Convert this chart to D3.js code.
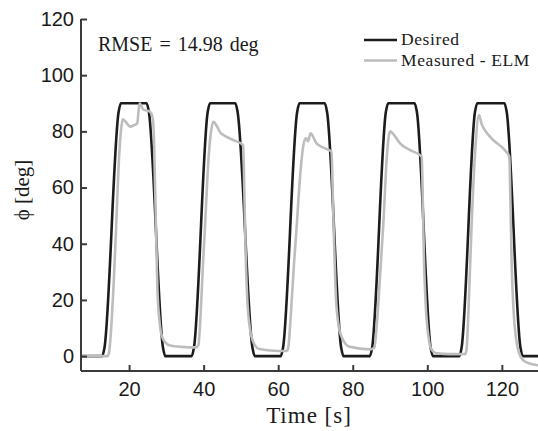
<!DOCTYPE html>
<html>
<head>
<meta charset="utf-8">
<script src="https://cdn.jsdelivr.net/npm/d3@7"></script>
<style>
  html, body { margin: 0; padding: 0; background: #fff; }
  svg { display: block; }
</style>
</head>
<body>
<svg id="chart" width="538" height="431"></svg>
<script>
// Reference trajectory (deg) over time (s)
const desiredTime = [7, 12.8, 13.4, 17.2, 17.8, 24.7, 25.3, 29.1, 29.7,
  36.8, 37.4, 41.1, 41.7, 48.5, 49.1, 53.1, 53.7,
  60.7, 61.3, 65.1, 65.7, 72.5, 73.1, 76.9, 77.5,
  84.6, 85.2, 88.9, 89.5, 96.6, 97.2, 100.9, 101.5,
  108.6, 109.2, 112.8, 113.4, 120.7, 121.3, 125.0, 125.6, 130];
const desiredPhi = [0, 0, 3, 87, 90, 90, 87, 3, 0,
  0, 3, 87, 90, 90, 87, 3, 0,
  0, 3, 87, 90, 90, 87, 3, 0,
  0, 3, 87, 90, 90, 87, 3, 0,
  0, 3, 87, 90, 90, 87, 3, 0, 0];

// Angle measured with the ELM estimator
const measuredTime = [7, 14.3, 14.7, 15.3, 15.8, 16.5, 17.2, 17.8, 18.3, 19.0, 20.3, 21.5, 22.2, 22.8,
  23.8, 25.6, 26.3, 26.6, 27.0, 27.6, 28.2, 28.8, 30.0, 31.0, 34.0, 38.1,
  38.6, 39.2, 39.8, 40.4, 41.2, 41.8, 42.6, 43.5, 44.5, 45.3, 48.0, 50.6,
  50.9, 51.3, 51.8, 52.4, 53.5, 55.0, 58.0, 62.3,
  62.7, 63.4, 64.2, 65.0, 66.0, 67.0, 67.5, 68.0, 68.7, 70.3, 72.5, 74.3,
  74.6, 74.9, 75.5, 76.2, 77.0, 79.2, 84.6,
  85.8, 86.5, 87.4, 88.2, 89.2, 90.0, 91.2, 92.7, 95.3, 98.5,
  98.8, 99.1, 99.6, 100.3, 101.2, 102.5, 106.0, 110.1,
  110.5, 111.1, 111.9, 112.8, 113.9, 114.6, 115.4, 117.7, 120.3, 122.0,
  122.3, 122.6, 123.2, 124.4, 125.7, 127.5, 130];
const measuredPhi = [0, 0, 2, 12, 24, 45, 68, 80, 84.3, 83.5, 81.7, 82.3, 83, 90,
  87.8, 87, 85, 80, 59, 24, 12, 7, 4.5, 3.8, 3.3, 3.1,
  4, 15, 32, 47, 68, 78, 83.4, 82, 79.5, 78.7, 76.9, 75.1,
  60, 35, 18, 10, 4.5, 2.5, 2, 1.8,
  3, 15, 32, 47, 66, 76.5, 77.5, 76.5, 79.3, 75.7, 74, 72.8,
  60, 45, 21, 11, 6.9, 3.3, 2.4,
  3, 12, 30, 47, 72, 80, 78.5, 75.7, 73.4, 71,
  55, 35, 17.6, 7, 2.2, 1, 0.7, 0.7,
  2, 18, 47, 72, 85.8, 82.5, 80.5, 76.9, 74, 71,
  55, 35, 15, 2, -1.4, -2.6, -3.3];

const xTicks = [20, 40, 60, 80, 100, 120];
const yTicks = [0, 20, 40, 60, 80, 100, 120];
const seriesNames = ["Desired", "Measured - ELM"];
const rmseText = "RMSE = 14.98 deg";

const svg = d3.select("#chart");
const axisColor = "#3a3a3a";
const serifFont = '"Liberation Serif"';
const sansFont = '"Liberation Sans"';
const plotLeft = 81, plotTop = 19, plotBottom = 371, plotRight = 538;

const x = d3.scaleLinear().domain([7.1, 129.7]).range([plotLeft, plotRight]);
const y = d3.scaleLinear().domain([-5.3, 120]).range([plotBottom, plotTop]);

svg.append("clipPath").attr("id", "plotArea")
  .append("rect").attr("x", plotLeft).attr("y", 0)
  .attr("width", plotRight - plotLeft).attr("height", plotBottom);

const line = d3.line().x(d => x(d[0])).y(d => y(d[1])).curve(d3.curveMonotoneX);

const desired = desiredTime.map((t, i) => [t, desiredPhi[i]]);
const measured = measuredTime.map((t, i) => [t, measuredPhi[i]]);

const plot = svg.append("g").attr("clip-path", "url(#plotArea)");
plot.append("path").datum(desired).attr("d", line)
  .attr("fill", "none").attr("stroke", "#1c1c1c").attr("stroke-width", 2.6).attr("stroke-linejoin", "round");
plot.append("path").datum(measured).attr("d", line)
  .attr("fill", "none").attr("stroke", "#bdbdbd").attr("stroke-width", 2.6).attr("stroke-linejoin", "round");

// Axes with inward ticks
const xAxis = svg.append("g").attr("transform", `translate(0,${plotBottom})`)
  .call(d3.axisBottom(x).tickValues(xTicks).tickSize(-6).tickPadding(11).tickSizeOuter(0));
const yAxis = svg.append("g").attr("transform", `translate(${plotLeft},0)`)
  .call(d3.axisLeft(y).tickValues(yTicks).tickSize(-6).tickPadding(7).tickSizeOuter(0));

[xAxis, yAxis].forEach(g => {
  g.select(".domain").attr("stroke", axisColor).attr("stroke-width", 2);
  g.selectAll(".tick line").attr("stroke", axisColor).attr("stroke-width", 2);
  g.selectAll(".tick text").attr("fill", "#1a1a1a")
    .style("font-family", sansFont).style("font-size", "20px");
});
xAxis.select(".domain").attr("d", `M${plotLeft},0H${plotRight}`);
yAxis.select(".domain").attr("d", `M0,${plotBottom}V${plotTop}`);

svg.append("text").attr("x", 309).attr("y", 423).attr("text-anchor", "middle")
  .style("font-family", serifFont).style("font-size", "23px").style("letter-spacing", "1px")
  .attr("fill", "#1a1a1a")
  .text("Time [s]");

svg.append("text").attr("transform", "translate(29,190) rotate(-90)")
  .attr("text-anchor", "middle")
  .style("font-family", serifFont).style("font-size", "21px").attr("fill", "#1a1a1a")
  .text("\u03D5 [deg]");

svg.append("text").attr("x", 98).attr("y", 51)
  .style("font-family", serifFont).style("font-size", "20px").attr("fill", "#1a1a1a")
  .style("word-spacing", "2px")
  .text(rmseText);

// Legend
const legendColors = ["#1c1c1c", "#bdbdbd"];
const legend = svg.append("g");
seriesNames.forEach((name, i) => {
  const ly = 40 + i * 20.5;
  legend.append("line").attr("x1", 364).attr("x2", 397).attr("y1", ly).attr("y2", ly)
    .attr("stroke", legendColors[i]).attr("stroke-width", 2.6);
  legend.append("text").attr("x", 401).attr("y", ly + 5)
    .style("font-family", serifFont).style("font-size", "17.5px").style("letter-spacing", "0.6px")
    .attr("fill", "#1a1a1a")
    .text(name);
});
</script>
</body>
</html>
